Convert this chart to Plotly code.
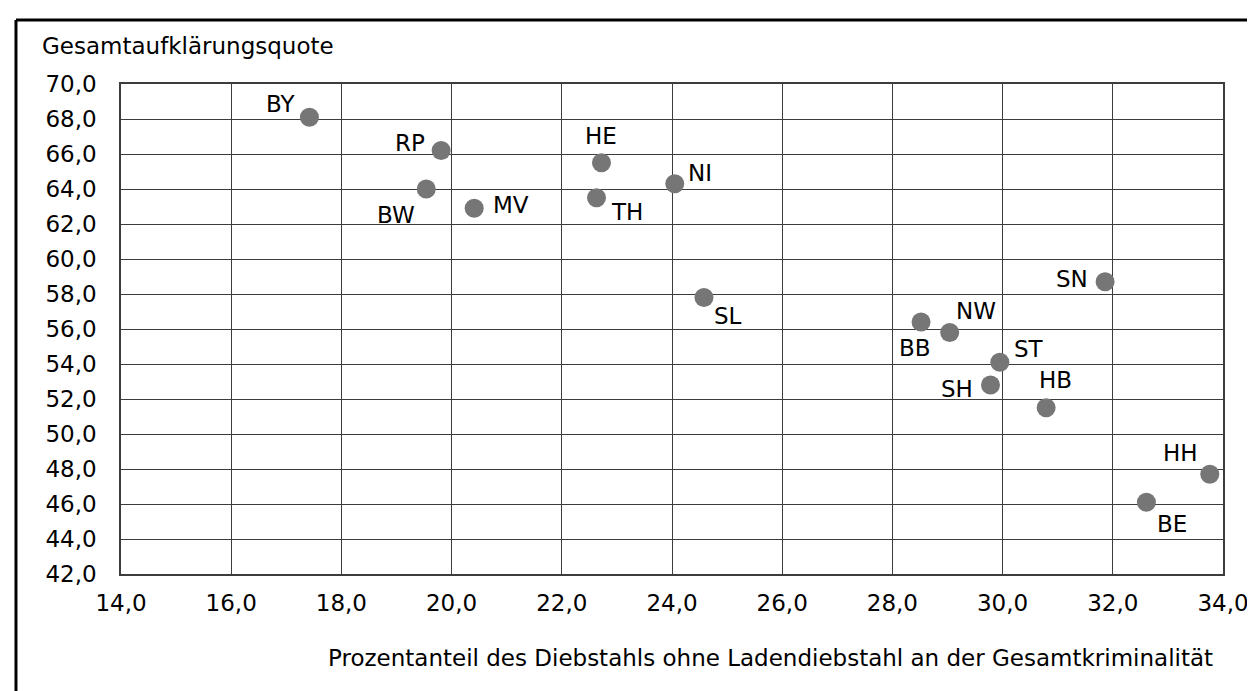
import plotly.graph_objects as go

# Bundesländer
laender = ["BY", "RP", "BW", "MV", "HE", "TH", "NI", "SL",
           "SN", "BB", "NW", "ST", "SH", "HB", "HH", "BE"]
# Prozentanteil des Diebstahls ohne Ladendiebstahl
diebstahl_anteil = [17.42, 19.81, 19.54, 20.41, 22.72, 22.63, 24.05, 24.58,
                    31.86, 28.52, 29.04, 29.95, 29.78, 30.79, 33.76, 32.61]
# Gesamtaufklärungsquote
aufklaerung = [68.1, 66.2, 64.0, 62.9, 65.5, 63.5, 64.3, 57.8,
               58.7, 56.4, 55.8, 54.1, 52.8, 51.5, 47.7, 46.1]

# label offsets in pixels (right, down) relative to the marker
label_dx = [-28, -31, -30, 37, 0, 30, 25, 24, -33, -6, 26, 29, -33, 9, -29, 26]
label_dy = [-13, -8, 26, -3, -27, 14, -11, 18, -3, 26, -22, -13, 4, -28, -21, 22]

x_ticks = [14 + 2 * i for i in range(11)]
y_ticks = [42 + 2 * i for i in range(15)]

FONT = "DejaVu Sans, Liberation Sans, Arial, sans-serif"
FS = 23
GRID = "#3c3c3c"

fig = go.Figure()
fig.add_trace(go.Scatter(
    x=diebstahl_anteil,
    y=aufklaerung,
    mode="markers",
    marker=dict(size=19, color="#767676"),
    hoverinfo="skip",
    showlegend=False,
))

annotations = []
for name, x, y, dx, dy in zip(laender, diebstahl_anteil, aufklaerung, label_dx, label_dy):
    annotations.append(dict(
        text=name, x=x, y=y, xref="x", yref="y",
        xshift=dx, yshift=-dy, xanchor="center", yanchor="middle",
        showarrow=False, font=dict(size=FS, color="#000000"),
    ))

annotations += [
    dict(text="Gesamtaufklärungsquote", xref="paper", yref="paper",
         x=-0.0735, y=1.0776, xanchor="left", yanchor="middle",
         showarrow=False, font=dict(size=FS)),
    dict(text="Prozentanteil des Diebstahls ohne Ladendiebstahl an der Gesamtkriminalität",
         xref="paper", yref="paper", x=0.186, y=-0.171,
         xanchor="left", yanchor="middle",
         showarrow=False, font=dict(size=FS)),
]

fig.update_xaxes(
    range=[14, 34],
    tickvals=x_ticks,
    ticktext=[f"{v:.1f}".replace(".", ",") for v in x_ticks],
    showgrid=True, gridcolor=GRID, gridwidth=1,
    showline=True, linecolor=GRID, linewidth=1.5, mirror=True,
    zeroline=False,
    ticks="outside", ticklen=8, tickcolor="rgba(0,0,0,0)",
    tickfont=dict(size=FS, family=FONT, color="#000000"),
)
fig.update_yaxes(
    range=[42, 70],
    tickvals=y_ticks,
    ticktext=[f"{v:.1f}".replace(".", ",") for v in y_ticks],
    showgrid=True, gridcolor=GRID, gridwidth=1,
    showline=True, linecolor=GRID, linewidth=1.5, mirror=True,
    zeroline=False,
    ticks="outside", ticklen=18, tickcolor="rgba(0,0,0,0)",
    tickfont=dict(size=FS, family=FONT, color="#000000"),
)

fig.update_layout(
    width=1255, height=691,
    margin=dict(l=113, r=40, t=76, b=125),
    paper_bgcolor="white",
    plot_bgcolor="white",
    font=dict(family=FONT, size=FS, color="#000000"),
    annotations=annotations,
    shapes=[
        # outer chart frame (left and top edges visible)
        dict(type="line", xref="paper", yref="paper",
             x0=-0.0953, x1=-0.0953, y0=-0.3, y1=1.1306,
             line=dict(color="black", width=3)),
        dict(type="line", xref="paper", yref="paper",
             x0=-0.0953, x1=1.1, y0=1.1306, y1=1.1306,
             line=dict(color="black", width=3)),
    ],
)

fig.write_html("out.html")
